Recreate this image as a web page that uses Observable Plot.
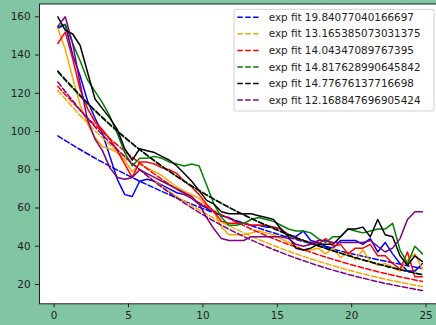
<!DOCTYPE html>
<html>
<head>
<meta charset="utf-8">
<script src="https://cdn.jsdelivr.net/npm/d3@7"></script>
<script src="https://cdn.jsdelivr.net/npm/@observablehq/plot@0.6"></script>
<style>
  html, body { margin: 0; padding: 0; background: #82c5a5; }
  body { width: 436px; height: 325px; overflow: hidden; }
  svg { display: block; }
</style>
</head>
<body>
<div id="chart"></div>
<script>
// sample positions of the measured curves
const xs = [0.25,0.75,1.25,1.75,2.25,2.75,3.25,3.75,4.25,4.75,5.25,5.75,6.25,6.75,7.25,7.75,8.25,8.75,9.25,9.75,
            10.25,10.75,11.25,11.75,12.25,12.75,13.25,13.75,14.25,14.75,15.25,15.75,16.25,16.75,17.25,17.75,18.25,18.75,19.25,19.75,
            20.25,20.75,21.25,21.75,22.25,22.75,23.25,23.75,24.25,24.75];

const blueData   = [154,156,140,129,116,107,99,87,75,67,66,74,75,74,72,70,68,67,65,62,
                    60,58,56,55,53,52,51,51,50,50,49,46,45,48,43,42,40,39,43,43,
                    43,41,44,37,42,36,31,27,27,31];
const orangeData = [154,143,128,114,104,97,92,91,89,85,79,83,81,79,77,74,71,69,67,65,
                    61,58,50,46,46,46,47,48,47,46,44,42,40,38,38,39,36,39,34,37,
                    33,38,32,30,31,29,27,33,36,28];
const redData    = [146,152,138,122,112,105,101,96,90,83,76,84,84,83,81,80,78,74,71,67,
                    62,58,53,52,52,52,51,51,51,50,49,46,44,43,42,41,44,40,41,36,
                    39,39,41,35,35,31,28,37,24,24];
const greenData  = [155,156,146,137,127,121,115,108,99,89,82,86,86,87,86,84,83,82,83,82,
                    72,62,55,51,51,52,54,55,54,53,51,49,48,48,47,44,42,45,45,49,
                    48,47,48,49,49,52,38,31,40,36];
const blackData  = [160,153,151,145,131,117,112,107,101,91,85,91,90,89,87,85,82,78,74,69,
                    64,62,58,57,57,57,57,56,55,54,49,45,39,38,39,41,41,41,45,49,
                    49,50,45,54,46,45,35,30,35,32];
const purpleData = [155,160,146,125,106,96,90,81,76,75,76,80,78,76,74,72,70,68,66,62,
                    55,49,44,43,43,43,45,45,45,45,45,44,41,40,41,43,43,42,42,42,
                    42,42,43,40,37,39,44,54,58,58];

// exponential fit curves, read at these positions
const fitX = [0.25,2.5,5,7.5,10,12.5,15,17.5,20,22.5,24.75];
const blueFit   = [97.7,87.2,76.9,67.8,59.7,52.7,46.4,40.9,36.1,31.8,28.4];
const orangeFit = [121.5,102.4,84.7,70.0,57.9,47.9,39.6,32.8,27.1,22.4,18.9];
const redFit    = [123.6,105.3,88.1,73.7,61.7,51.7,43.2,36.2,30.3,25.3,21.6];
const greenFit  = [131.1,112.6,95.1,80.4,67.9,57.3,48.4,40.9,34.6,29.2,25.1];
const blackFit  = [131.6,113.0,95.4,80.5,68.0,57.4,48.5,40.9,34.6,29.2,25.1];
const purpleFit = [125.9,104.6,85.2,69.4,56.5,46.0,37.5,30.5,24.8,20.2,16.8];

const colors = ["blue","orange","red","green","black","purple"];
const fitLabels = ["exp fit 19.84077040166697","exp fit 13.165385073031375","exp fit 14.04347089767395",
                   "exp fit 14.817628990645842","exp fit 14.77676137716698","exp fit 12.168847696905424"];
const xTicks = [0,5,10,15,20,25];
const yTicks = [20,40,60,80,100,120,140,160];

const dataSeries = [blueData, orangeData, redData, greenData, blackData, purpleData];
const fitSeries  = [blueFit, orangeFit, redFit, greenFit, blackFit, purpleFit];

const marks = [Plot.frame({fill: "white"})];
colors.forEach((c, k) => {
  marks.push(Plot.line(xs.map((x, i) => ({x, y: dataSeries[k][i]})),
    {x: "x", y: "y", stroke: c, strokeWidth: 1.5}));
  marks.push(Plot.line(fitX.map((x, i) => ({x, y: fitSeries[k][i]})),
    {x: "x", y: "y", stroke: c, strokeWidth: 1.5, strokeDasharray: "5.5,2.4", curve: "natural"}));
});
marks.push(Plot.axisX({ticks: xTicks, tickSize: 4, tickPadding: 4, label: null}));
marks.push(Plot.axisY({ticks: yTicks, tickSize: 4, tickPadding: 5, label: null}));
marks.push(Plot.frame({stroke: "#222", strokeWidth: 1}));

const chart = Plot.plot({
  width: 436,
  height: 325,
  marginLeft: 39,
  marginTop: 3.5,
  marginBottom: 21.7,
  marginRight: 0,
  x: {domain: [-0.98, 25.70]},
  y: {domain: [9.9, 166.7]},
  style: {background: "transparent", fontFamily: "DejaVu Sans", fontSize: "10.4px", color: "#222", overflow: "visible"},
  marks
});

// legend (upper right, inside axes)
const svg = d3.select(chart);
const lg = svg.append("g").attr("font-family", "DejaVu Sans").attr("font-size", "10.4px")
  .attr("text-anchor", "start");
lg.append("rect").attr("x", 234).attr("y", 9.3).attr("width", 200).attr("height", 101.7)
  .attr("rx", 2).attr("fill", "white").attr("fill-opacity", 0.8).attr("stroke", "#d0d0d0");
fitLabels.forEach((t, i) => {
  const cy = 17.3 + i * 16.55;
  lg.append("line").attr("x1", 237.3).attr("x2", 259.7).attr("y1", cy).attr("y2", cy)
    .attr("stroke", colors[i]).attr("stroke-width", 1.5).attr("stroke-dasharray", "5.5,2.4");
  lg.append("text").attr("x", 268.7).attr("y", cy).attr("dy", "0.35em")
    .attr("text-anchor", "start").attr("fill", "#222").text(t);
});

document.getElementById("chart").appendChild(chart);
</script>
</body>
</html>
